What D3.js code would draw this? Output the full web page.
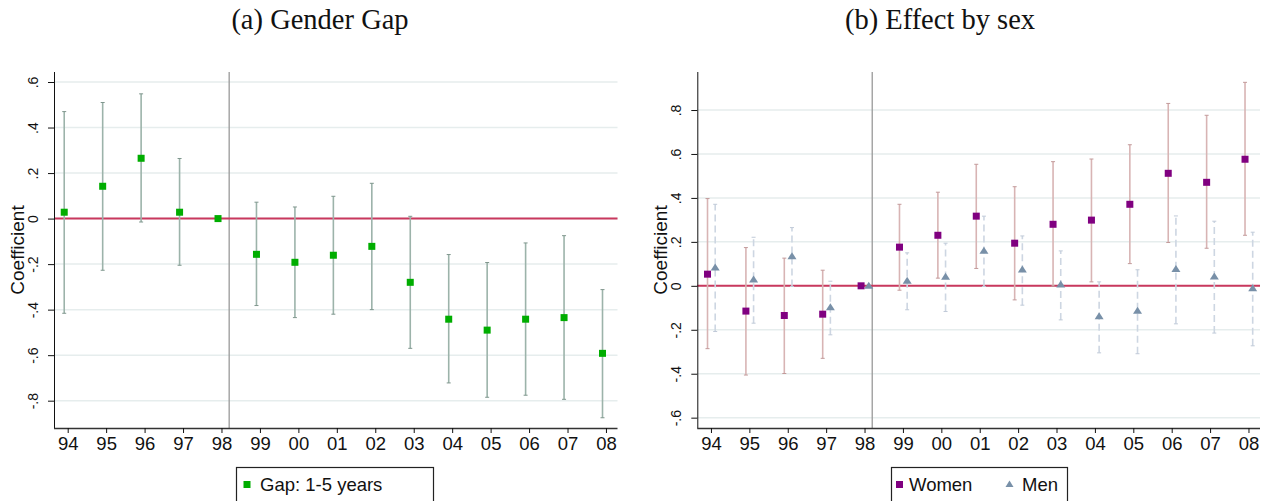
<!DOCTYPE html>
<html>
<head>
<meta charset="utf-8">
<script src="https://cdn.jsdelivr.net/npm/d3@7"></script>
<style>
  body { margin: 0; background: #fff; }
  svg { display: block; }
  text { font-family: "Liberation Sans", Arial, sans-serif; fill: #111; }
  .title { font-family: "Liberation Serif", "Times New Roman", serif; }
</style>
</head>
<body>
<div id="chart"></div>
<script>
  // survey years on the x axis
  const years = ["94", "95", "96", "97", "98", "99", "00", "01", "02", "03", "04", "05", "06", "07", "08"];

  // (a) gender gap, 1-5 years
  const gapCoef = [0.028, 0.142, 0.265, 0.028, 0, -0.157, -0.192, -0.161, -0.122, -0.28, -0.442, -0.49, -0.442, -0.435, -0.592];
  const gapLo = [-0.416, -0.227, -0.015, -0.205, null, -0.382, -0.435, -0.42, -0.4, -0.57, -0.722, -0.785, -0.776, -0.794, -0.875];
  const gapHi = [0.47, 0.51, 0.548, 0.264, null, 0.072, 0.051, 0.098, 0.155, 0.01, -0.158, -0.193, -0.107, -0.075, -0.312];

  // (b) effect by sex
  const womenCoef = [0.053, -0.115, -0.135, -0.129, 0, 0.176, 0.23, 0.317, 0.194, 0.28, 0.299, 0.371, 0.512, 0.471, 0.576];
  const womenLo = [-0.286, -0.406, -0.399, -0.33, null, -0.02, 0.035, 0.079, -0.064, -0.001, 0.018, 0.101, 0.197, 0.171, 0.23];
  const womenHi = [0.397, 0.174, 0.126, 0.071, null, 0.371, 0.426, 0.553, 0.451, 0.565, 0.577, 0.642, 0.83, 0.776, 0.926];
  const menCoef = [0.083, 0.029, 0.135, -0.097, 0, 0.023, 0.041, 0.16, 0.074, 0.006, -0.138, -0.114, 0.076, 0.042, -0.011];
  const menLo = [-0.208, -0.17, -0.003, -0.223, null, -0.109, -0.117, -0.003, -0.088, -0.155, -0.305, -0.309, -0.173, -0.215, -0.273];
  const menHi = [0.371, 0.221, 0.265, 0.021, null, 0.15, 0.194, 0.317, 0.227, 0.159, 0.018, 0.073, 0.318, 0.294, 0.244];

  // y ticks and labels
  const leftTicks = [0.6, 0.4, 0.2, 0, -0.2, -0.4, -0.6, -0.8];
  const leftTickLabels = [".6", ".4", ".2", "0", "-.2", "-.4", "-.6", "-.8"];
  const rightTicks = [0.8, 0.6, 0.4, 0.2, 0, -0.2, -0.4, -0.6];
  const rightTickLabels = [".8", ".6", ".4", ".2", "0", "-.2", "-.4", "-.6"];

  const width = 1274, height = 501;
  const svg = d3.select("#chart").append("svg")
    .attr("width", width)
    .attr("height", height);

  function drawPanel(p) {
    let x = d3.scaleLinear().domain([-0.356, 14.3]).range([p.left, p.right]);
    let y = d3.scaleLinear().domain(p.yDomain).range([428, 72]);
    let g = svg.append("g");

    // gridlines
    g.selectAll(".grid").data(p.ticks).enter().append("line")
      .attr("x1", p.left).attr("x2", p.right)
      .attr("y1", d => y(d)).attr("y2", d => y(d))
      .attr("stroke", "#e6eded").attr("stroke-width", 1.5);

    // reference lines
    g.append("line")
      .attr("x1", x(4.2)).attr("x2", x(4.2))
      .attr("y1", 72).attr("y2", 428)
      .attr("stroke", "#999").attr("stroke-width", 1.3);
    g.append("line")
      .attr("x1", p.left).attr("x2", p.right)
      .attr("y1", y(0)).attr("y2", y(0))
      .attr("stroke", "#c9385e").attr("stroke-width", 2);

    // y axis
    let yAxis = d3.axisLeft(y).tickValues(p.ticks).tickSize(6)
      .tickFormat((d, i) => p.tickLabels[i]);
    let ya = g.append("g").attr("transform", "translate(" + p.left + ",0)").call(yAxis);
    ya.select(".domain").attr("d", "M0.5,72V428.5").attr("stroke", "#111");
    ya.selectAll(".tick line").attr("stroke", "#111");
    ya.selectAll(".tick text")
      .attr("transform", "rotate(-90)")
      .attr("x", 0).attr("y", -16)
      .attr("dy", "0")
      .style("text-anchor", "middle")
      .style("font-size", "14px")
      .style("font-family", "Liberation Sans, Arial, sans-serif");

    // x axis
    let xAxis = d3.axisBottom(x).tickValues(d3.range(years.length)).tickSize(5)
      .tickFormat(i => years[i]);
    let xa = g.append("g").attr("transform", "translate(0,428)").call(xAxis);
    xa.select(".domain").attr("d", "M" + p.left + ",0.5H" + p.right).attr("stroke", "#333").attr("stroke-width", 1.5);
    xa.selectAll(".tick line").attr("stroke", "#111");
    xa.selectAll(".tick text")
      .attr("y", 9).attr("dy", "0.71em")
      .style("font-size", "18.5px")
      .style("font-family", "Liberation Sans, Arial, sans-serif");

    // y title
    g.append("text")
      .attr("transform", "translate(" + (p.left - 30) + ",250) rotate(-90)")
      .attr("text-anchor", "middle")
      .style("font-size", "19px")
      .text("Coefficient");

    // series
    p.series.forEach(function(s) {
      let rows = s.coef.map((c, i) => ({i: i, c: c, lo: s.lo[i], hi: s.hi[i]}));
      let ci = rows.filter(d => d.lo !== null);
      let xs = d => x(d.i + s.offset);

      g.selectAll(null).data(ci).enter().append("line")
        .attr("x1", xs).attr("x2", xs)
        .attr("y1", d => y(d.lo)).attr("y2", d => y(d.hi))
        .attr("stroke", s.ciColor).attr("stroke-width", 1.6)
        .attr("stroke-dasharray", s.dash);
      [ "lo", "hi" ].forEach(function(k) {
        g.selectAll(null).data(ci).enter().append("line")
          .attr("x1", d => xs(d) - 2).attr("x2", d => xs(d) + 2)
          .attr("y1", d => y(d[k])).attr("y2", d => y(d[k]))
          .attr("stroke", s.capColor).attr("stroke-width", 1);
      });

      if (s.shape === "square") {
        g.selectAll(null).data(rows).enter().append("rect")
          .attr("x", d => xs(d) - 3.5).attr("y", d => y(d.c) - 3.5)
          .attr("width", 7).attr("height", 7)
          .attr("fill", s.color);
      } else {
        g.selectAll(null).data(rows).enter().append("path")
          .attr("d", d => "M" + xs(d) + "," + (y(d.c) - 4) + "L" + (xs(d) + 4.5) + "," + (y(d.c) + 3) + "L" + (xs(d) - 4.5) + "," + (y(d.c) + 3) + "Z")
          .attr("fill", s.color);
      }
    });

    // title
    svg.append("text")
      .attr("class", "title")
      .attr("x", p.titleX).attr("y", 29)
      .attr("text-anchor", "middle")
      .style("font-size", "28.5px")
      .text(p.title);

    // legend
    let lg = svg.append("g");
    lg.append("rect")
      .attr("x", p.legend.x + 0.5).attr("y", 467.5)
      .attr("width", p.legend.w).attr("height", 40)
      .attr("fill", "#fff").attr("stroke", "#222").attr("stroke-width", 1.2);
    p.legend.items.forEach(function(it) {
      if (it.shape === "square") {
        lg.append("rect").attr("x", it.mx - 3.5).attr("y", 481).attr("width", 7).attr("height", 7).attr("fill", it.color);
      } else {
        lg.append("path").attr("d", "M" + it.mx + ",480.5L" + (it.mx + 4) + ",487L" + (it.mx - 4) + ",487Z").attr("fill", it.color);
      }
      lg.append("text").attr("x", it.tx).attr("y", 491)
        .style("font-size", "18.5px").text(it.label);
    });
  }

  drawPanel({
    left: 54, right: 617.5,
    yDomain: [-0.92, 0.644],
    ticks: leftTicks, tickLabels: leftTickLabels,
    title: "(a) Gender Gap", titleX: 320,
    series: [
      {coef: gapCoef, lo: gapLo, hi: gapHi, offset: -0.09, shape: "square",
       color: "#00ad00", ciColor: "#9cb3aa", capColor: "#7f968d", dash: null}
    ],
    legend: {x: 236, w: 197, items: [
      {shape: "square", color: "#00ad00", mx: 247, tx: 260, label: "Gap: 1-5 years"}
    ]}
  });

  drawPanel({
    left: 697.3, right: 1260,
    yDomain: [-0.647, 0.973],
    ticks: rightTicks, tickLabels: rightTickLabels,
    title: "(b) Effect by sex", titleX: 940,
    series: [
      {coef: womenCoef, lo: womenLo, hi: womenHi, offset: -0.09, shape: "square",
       color: "#800080", ciColor: "#d8b4b4", capColor: "#c29a9a", dash: null},
      {coef: menCoef, lo: menLo, hi: menHi, offset: 0.11, shape: "triangle",
       color: "#7890a8", ciColor: "#cdd6e2", capColor: "#c0cad8", dash: "7,4"}
    ],
    legend: {x: 891, w: 176, items: [
      {shape: "square", color: "#800080", mx: 899.5, tx: 909, label: "Women"},
      {shape: "triangle", color: "#7890a8", mx: 1009.5, tx: 1022, label: "Men"}
    ]}
  });
</script>
</body>
</html>
